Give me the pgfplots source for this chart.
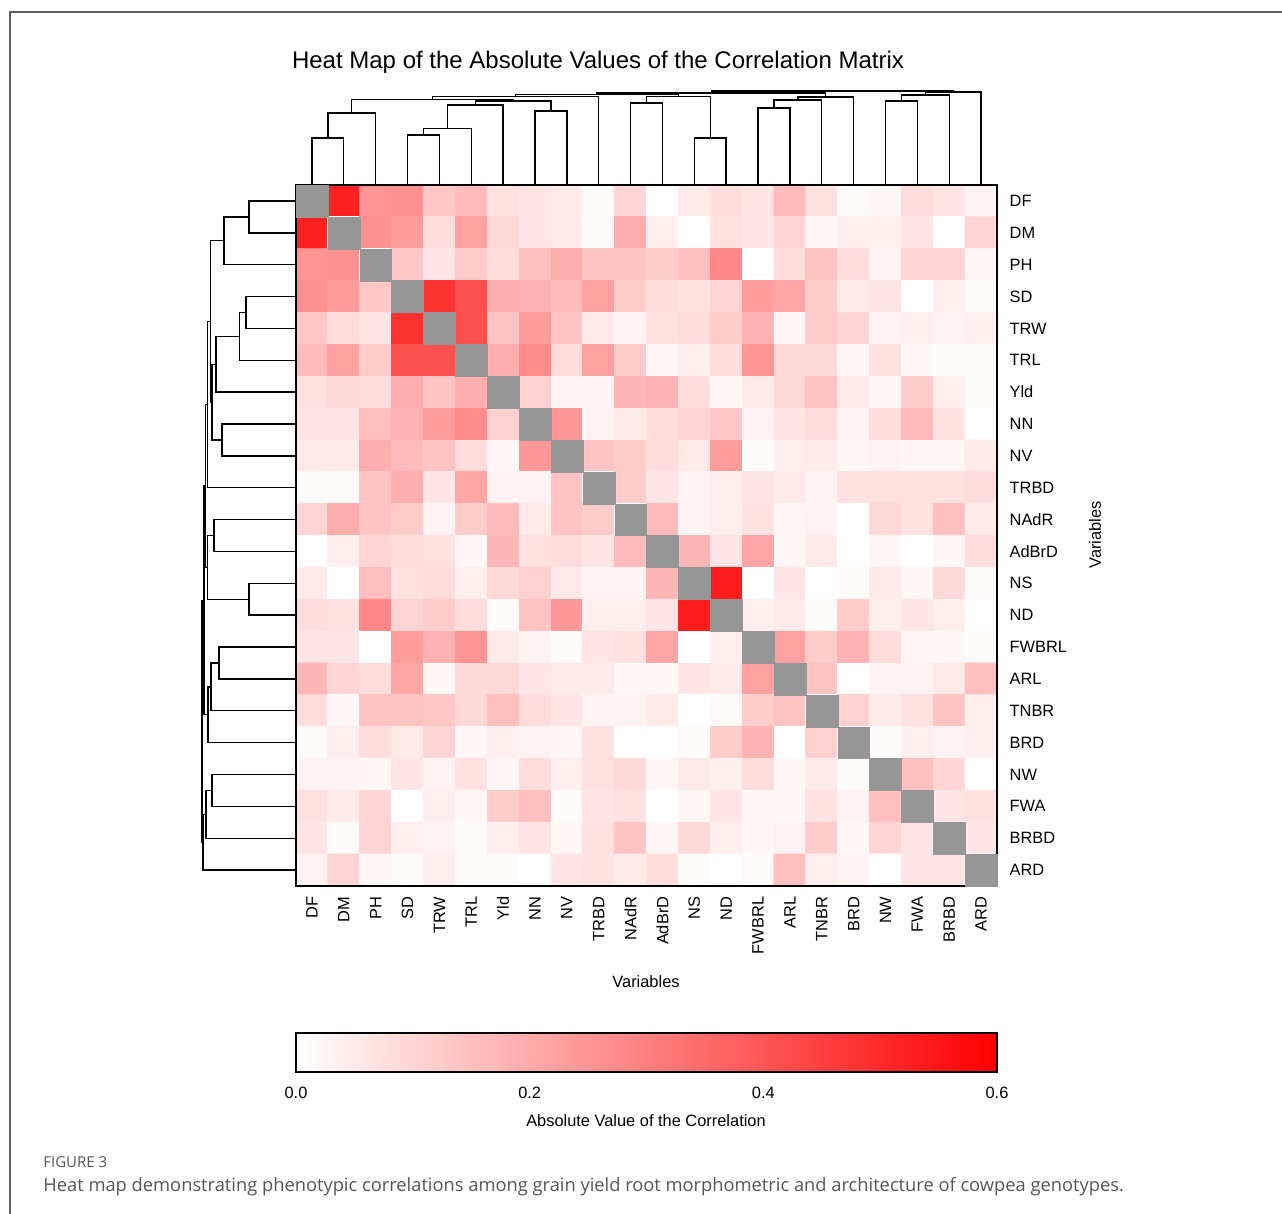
\documentclass[border=0pt]{standalone}
\usepackage{fontspec}
\setmainfont{Liberation Sans}
\newfontfamily\capfont{Open Sans}
\usepackage{pgfplots}
\pgfplotsset{compat=1.18}
\usetikzlibrary{calc}
\definecolor{diaggray}{RGB}{150,150,150}
\definecolor{framegray}{RGB}{95,95,95}
\definecolor{capgray}{RGB}{85,85,85}
\newcommand{\labfont}{\fontsize{8.2}{9.8}\selectfont}
\pgfplotsset{colormap={whitered}{rgb255=(255,255,255) rgb255=(255,0,0)}}
\def\varnames{DF,DM,PH,SD,TRW,TRL,Yld,NN,NV,TRBD,NAdR,AdBrD,NS,ND,FWBRL,ARL,TNBR,BRD,NW,FWA,BRBD,ARD}
\begin{document}
\begin{tikzpicture}
\useasboundingbox (0,0) rectangle (641pt,-607pt);
\draw[framegray, line width=0.6pt] (5pt,-607pt) -- (5pt,-6pt) -- (641pt,-6pt);
\node[font=\fontsize{12}{14}\selectfont] at (299pt,-31.3pt) {Heat Map of the Absolute Values of the Correlation Matrix};

% heat map
\begin{axis}[
  at={(148pt,-92.5pt)}, anchor=north west,
  width=350.5pt, height=350.5pt, scale only axis,
  xmin=-0.5, xmax=21.5, ymin=-0.5, ymax=21.5, y dir=reverse,
  enlargelimits=false,
  axis line style={line width=0.8pt, black},
  xtick={0,...,21}, ytick={0,...,21},
  xticklabels/.expand once=\varnames,
  yticklabels/.expand once=\varnames,
  yticklabel pos=right,
  major tick length=0pt, tick style={draw=none},
  xticklabel style={font=\labfont, yshift=-1.8pt, rotate=90, anchor=east},
  yticklabel style={font=\labfont, xshift=2.8pt, anchor=west},
  colormap name=whitered, point meta min=0, point meta max=0.6,
  colorbar horizontal,
  colorbar/width=19.5pt,
  colorbar style={
    at={($(parent axis.south west)+(0pt,-65pt)$)}, anchor=north west,
    width=350.5pt, scale only axis,
    xtick={0,0.2,0.4,0.6},
    major tick length=0pt, tick style={draw=none},
    axis line style={line width=0.8pt, black},
    xticklabel style={font=\labfont, yshift=-3.8pt,
      /pgf/number format/.cd, fixed, fixed zerofill, precision=1, assume math mode=true},
  },
  axis on top,
]
\addplot[matrix plot*, mesh/cols=22, point meta=explicit] coordinates {
(0,0)[0] (1,0)[0.52] (2,0)[0.25] (3,0)[0.26] (4,0)[0.13] (5,0)[0.16] (6,0)[0.07] (7,0)[0.06] (8,0)[0.05] (9,0)[0.01] (10,0)[0.10] (11,0)[0.00] (12,0)[0.05] (13,0)[0.08] (14,0)[0.06] (15,0)[0.16] (16,0)[0.07] (17,0)[0.01] (18,0)[0.02] (19,0)[0.08] (20,0)[0.06] (21,0)[0.03]
(0,1)[0.52] (1,1)[0] (2,1)[0.26] (3,1)[0.23] (4,1)[0.08] (5,1)[0.22] (6,1)[0.09] (7,1)[0.06] (8,1)[0.05] (9,1)[0.01] (10,1)[0.19] (11,1)[0.04] (12,1)[0.00] (13,1)[0.07] (14,1)[0.06] (15,1)[0.10] (16,1)[0.02] (17,1)[0.04] (18,1)[0.04] (19,1)[0.06] (20,1)[0.00] (21,1)[0.10]
(0,2)[0.25] (1,2)[0.26] (2,2)[0] (3,2)[0.13] (4,2)[0.06] (5,2)[0.12] (6,2)[0.08] (7,2)[0.15] (8,2)[0.19] (9,2)[0.14] (10,2)[0.14] (11,2)[0.12] (12,2)[0.15] (13,2)[0.28] (14,2)[0.00] (15,2)[0.08] (16,2)[0.14] (17,2)[0.08] (18,2)[0.03] (19,2)[0.10] (20,2)[0.10] (21,2)[0.02]
(0,3)[0.26] (1,3)[0.23] (2,3)[0.13] (3,3)[0] (4,3)[0.48] (5,3)[0.41] (6,3)[0.19] (7,3)[0.18] (8,3)[0.16] (9,3)[0.22] (10,3)[0.12] (11,3)[0.08] (12,3)[0.07] (13,3)[0.10] (14,3)[0.23] (15,3)[0.21] (16,3)[0.12] (17,3)[0.05] (18,3)[0.06] (19,3)[0.00] (20,3)[0.04] (21,3)[0.01]
(0,4)[0.13] (1,4)[0.08] (2,4)[0.06] (3,4)[0.48] (4,4)[0] (5,4)[0.41] (6,4)[0.14] (7,4)[0.23] (8,4)[0.14] (9,4)[0.05] (10,4)[0.03] (11,4)[0.07] (12,4)[0.08] (13,4)[0.12] (14,4)[0.18] (15,4)[0.02] (16,4)[0.12] (17,4)[0.10] (18,4)[0.03] (19,4)[0.04] (20,4)[0.03] (21,4)[0.04]
(0,5)[0.16] (1,5)[0.22] (2,5)[0.12] (3,5)[0.41] (4,5)[0.41] (5,5)[0] (6,5)[0.19] (7,5)[0.27] (8,5)[0.08] (9,5)[0.22] (10,5)[0.12] (11,5)[0.02] (12,5)[0.04] (13,5)[0.08] (14,5)[0.25] (15,5)[0.09] (16,5)[0.09] (17,5)[0.02] (18,5)[0.07] (19,5)[0.02] (20,5)[0.01] (21,5)[0.01]
(0,6)[0.07] (1,6)[0.09] (2,6)[0.08] (3,6)[0.19] (4,6)[0.14] (5,6)[0.19] (6,6)[0] (7,6)[0.11] (8,6)[0.03] (9,6)[0.03] (10,6)[0.17] (11,6)[0.18] (12,6)[0.08] (13,6)[0.02] (14,6)[0.05] (15,6)[0.09] (16,6)[0.14] (17,6)[0.05] (18,6)[0.02] (19,6)[0.12] (20,6)[0.04] (21,6)[0.01]
(0,7)[0.06] (1,7)[0.06] (2,7)[0.15] (3,7)[0.18] (4,7)[0.23] (5,7)[0.27] (6,7)[0.11] (7,7)[0] (8,7)[0.24] (9,7)[0.03] (10,7)[0.05] (11,7)[0.08] (12,7)[0.10] (13,7)[0.13] (14,7)[0.03] (15,7)[0.06] (16,7)[0.08] (17,7)[0.03] (18,7)[0.08] (19,7)[0.16] (20,7)[0.07] (21,7)[0.00]
(0,8)[0.05] (1,8)[0.05] (2,8)[0.19] (3,8)[0.16] (4,8)[0.14] (5,8)[0.08] (6,8)[0.02] (7,8)[0.24] (8,8)[0] (9,8)[0.14] (10,8)[0.12] (11,8)[0.08] (12,8)[0.05] (13,8)[0.23] (14,8)[0.01] (15,8)[0.04] (16,8)[0.05] (17,8)[0.02] (18,8)[0.03] (19,8)[0.02] (20,8)[0.02] (21,8)[0.05]
(0,9)[0.01] (1,9)[0.01] (2,9)[0.14] (3,9)[0.19] (4,9)[0.06] (5,9)[0.21] (6,9)[0.03] (7,9)[0.03] (8,9)[0.14] (9,9)[0] (10,9)[0.12] (11,9)[0.06] (12,9)[0.03] (13,9)[0.04] (14,9)[0.06] (15,9)[0.05] (16,9)[0.03] (17,9)[0.07] (18,9)[0.07] (19,9)[0.07] (20,9)[0.07] (21,9)[0.08]
(0,10)[0.10] (1,10)[0.19] (2,10)[0.14] (3,10)[0.12] (4,10)[0.03] (5,10)[0.12] (6,10)[0.16] (7,10)[0.05] (8,10)[0.14] (9,10)[0.12] (10,10)[0] (11,10)[0.16] (12,10)[0.03] (13,10)[0.04] (14,10)[0.07] (15,10)[0.02] (16,10)[0.03] (17,10)[0.00] (18,10)[0.09] (19,10)[0.07] (20,10)[0.15] (21,10)[0.05]
(0,11)[0.00] (1,11)[0.04] (2,11)[0.10] (3,11)[0.08] (4,11)[0.07] (5,11)[0.02] (6,11)[0.17] (7,11)[0.07] (8,11)[0.08] (9,11)[0.06] (10,11)[0.16] (11,11)[0] (12,11)[0.17] (13,11)[0.06] (14,11)[0.21] (15,11)[0.02] (16,11)[0.05] (17,11)[0.00] (18,11)[0.02] (19,11)[0.00] (20,11)[0.02] (21,11)[0.08]
(0,12)[0.05] (1,12)[0.00] (2,12)[0.15] (3,12)[0.07] (4,12)[0.08] (5,12)[0.04] (6,12)[0.09] (7,12)[0.11] (8,12)[0.05] (9,12)[0.03] (10,12)[0.03] (11,12)[0.17] (12,12)[0] (13,12)[0.53] (14,12)[0.00] (15,12)[0.06] (16,12)[0.00] (17,12)[0.01] (18,12)[0.05] (19,12)[0.02] (20,12)[0.09] (21,12)[0.01]
(0,13)[0.08] (1,13)[0.07] (2,13)[0.28] (3,13)[0.10] (4,13)[0.12] (5,13)[0.08] (6,13)[0.01] (7,13)[0.14] (8,13)[0.24] (9,13)[0.04] (10,13)[0.04] (11,13)[0.06] (12,13)[0.53] (13,13)[0] (14,13)[0.04] (15,13)[0.05] (16,13)[0.01] (17,13)[0.12] (18,13)[0.04] (19,13)[0.06] (20,13)[0.04] (21,13)[0.00]
(0,14)[0.06] (1,14)[0.06] (2,14)[0.00] (3,14)[0.23] (4,14)[0.18] (5,14)[0.25] (6,14)[0.05] (7,14)[0.03] (8,14)[0.01] (9,14)[0.06] (10,14)[0.07] (11,14)[0.21] (12,14)[0.00] (13,14)[0.04] (14,14)[0] (15,14)[0.22] (16,14)[0.12] (17,14)[0.18] (18,14)[0.08] (19,14)[0.02] (20,14)[0.02] (21,14)[0.01]
(0,15)[0.17] (1,15)[0.10] (2,15)[0.08] (3,15)[0.21] (4,15)[0.02] (5,15)[0.09] (6,15)[0.09] (7,15)[0.06] (8,15)[0.05] (9,15)[0.05] (10,15)[0.02] (11,15)[0.02] (12,15)[0.06] (13,15)[0.05] (14,15)[0.22] (15,15)[0] (16,15)[0.14] (17,15)[0.00] (18,15)[0.03] (19,15)[0.03] (20,15)[0.05] (21,15)[0.15]
(0,16)[0.08] (1,16)[0.02] (2,16)[0.14] (3,16)[0.14] (4,16)[0.13] (5,16)[0.09] (6,16)[0.15] (7,16)[0.08] (8,16)[0.06] (9,16)[0.03] (10,16)[0.03] (11,16)[0.05] (12,16)[0.00] (13,16)[0.01] (14,16)[0.12] (15,16)[0.14] (16,16)[0] (17,16)[0.11] (18,16)[0.05] (19,16)[0.07] (20,16)[0.14] (21,16)[0.04]
(0,17)[0.01] (1,17)[0.04] (2,17)[0.08] (3,17)[0.05] (4,17)[0.10] (5,17)[0.02] (6,17)[0.04] (7,17)[0.03] (8,17)[0.02] (9,17)[0.07] (10,17)[0.00] (11,17)[0.00] (12,17)[0.01] (13,17)[0.12] (14,17)[0.18] (15,17)[0.00] (16,17)[0.11] (17,17)[0] (18,17)[0.01] (19,17)[0.04] (20,17)[0.03] (21,17)[0.04]
(0,18)[0.03] (1,18)[0.03] (2,18)[0.02] (3,18)[0.06] (4,18)[0.03] (5,18)[0.07] (6,18)[0.02] (7,18)[0.08] (8,18)[0.04] (9,18)[0.07] (10,18)[0.09] (11,18)[0.02] (12,18)[0.05] (13,18)[0.04] (14,18)[0.08] (15,18)[0.02] (16,18)[0.05] (17,18)[0.01] (18,18)[0] (19,18)[0.15] (20,18)[0.10] (21,18)[0.00]
(0,19)[0.07] (1,19)[0.05] (2,19)[0.10] (3,19)[0.00] (4,19)[0.04] (5,19)[0.02] (6,19)[0.12] (7,19)[0.15] (8,19)[0.01] (9,19)[0.06] (10,19)[0.07] (11,19)[0.00] (12,19)[0.02] (13,19)[0.06] (14,19)[0.02] (15,19)[0.02] (16,19)[0.07] (17,19)[0.03] (18,19)[0.15] (19,19)[0] (20,19)[0.06] (21,19)[0.07]
(0,20)[0.06] (1,20)[0.01] (2,20)[0.10] (3,20)[0.04] (4,20)[0.03] (5,20)[0.01] (6,20)[0.04] (7,20)[0.06] (8,20)[0.02] (9,20)[0.07] (10,20)[0.14] (11,20)[0.02] (12,20)[0.09] (13,20)[0.04] (14,20)[0.02] (15,20)[0.03] (16,20)[0.12] (17,20)[0.02] (18,20)[0.10] (19,20)[0.06] (20,20)[0] (21,20)[0.06]
(0,21)[0.03] (1,21)[0.10] (2,21)[0.02] (3,21)[0.01] (4,21)[0.04] (5,21)[0.01] (6,21)[0.01] (7,21)[0.00] (8,21)[0.06] (9,21)[0.07] (10,21)[0.05] (11,21)[0.08] (12,21)[0.01] (13,21)[0.00] (14,21)[0.01] (15,21)[0.15] (16,21)[0.04] (17,21)[0.03] (18,21)[0.00] (19,21)[0.06] (20,21)[0.06] (21,21)[0]
};
\addplot[only marks, color=diaggray, mark=square*, mark size=7.97pt, mark options={fill=diaggray, draw=diaggray, line width=0.1pt}]
  coordinates {(0,0) (1,1) (2,2) (3,3) (4,4) (5,5) (6,6) (7,7) (8,8) (9,9) (10,10) (11,11) (12,12) (13,13) (14,14) (15,15) (16,16) (17,17) (18,18) (19,19) (20,20) (21,21)};
\end{axis}

% top dendrogram (x = leaf position, y = link height)
\begin{axis}[
  at={(148pt,-92.5pt)}, anchor=south west,
  width=350.5pt, height=48.5pt, scale only axis,
  xmin=-0.5, xmax=21.5, ymin=0, ymax=97,
  axis lines=none, clip=false, unbounded coords=jump,
]
\addplot[black, line width=0.7pt] coordinates {
(0,0) (0,47) (1,47) (1,0) (nan,nan)
(0.5,47) (0.5,72) (2,72) (2,0) (nan,nan)
(3,0) (3,50) (4,50) (4,0) (nan,nan)
(3.5,50) (3.5,56.7) (5,56.7) (5,0) (nan,nan)
(4.25,56.7) (4.25,80) (6,80) (6,0) (nan,nan)
(7,0) (7,74) (8,74) (8,0) (nan,nan)
(5.125,80) (5.125,84) (7.5,84) (7.5,74) (nan,nan)
(1.25,72) (1.25,85.7) (6.3125,85.7) (6.3125,84) (nan,nan)
(3.78,85.7) (3.78,88.3) (9,88.3) (9,0) (nan,nan)
(10,0) (10,82) (11,82) (11,0) (nan,nan)
(12,0) (12,47) (13,47) (13,0) (nan,nan)
(10.5,82) (10.5,88.3) (12.5,88.3) (12.5,47) (nan,nan)
(6.39,88.3) (6.39,90.7) (11.5,90.7) (11.5,88.3) (nan,nan)
(14,0) (14,77) (15,77) (15,0) (nan,nan)
(14.5,77) (14.5,85) (16,85) (16,0) (nan,nan)
(15.25,85) (15.25,88) (17,88) (17,0) (nan,nan)
(8.95,90.7) (8.95,92) (16.125,92) (16.125,88) (nan,nan)
(18,0) (18,84) (19,84) (19,0) (nan,nan)
(18.5,84) (18.5,90) (20,90) (20,0) (nan,nan)
(19.25,90) (19.25,93) (21,93) (21,0) (nan,nan)
(12.54,92) (12.54,94) (20.125,94) (20.125,93)
};
\end{axis}

% left dendrogram (x = link height, y = leaf position)
\begin{axis}[
  at={(148pt,-92.5pt)}, anchor=north east,
  width=48.5pt, height=350.5pt, scale only axis,
  xmin=0, xmax=97, x dir=reverse,
  ymin=-0.5, ymax=21.5, y dir=reverse,
  axis lines=none, clip=false, unbounded coords=jump,
]
\addplot[black, line width=0.7pt] coordinates {
(0,0) (47,0) (47,1) (0,1) (nan,nan)
(47,0.5) (72,0.5) (72,2) (0,2) (nan,nan)
(0,3) (50,3) (50,4) (0,4) (nan,nan)
(50,3.5) (56.7,3.5) (56.7,5) (0,5) (nan,nan)
(56.7,4.25) (80,4.25) (80,6) (0,6) (nan,nan)
(0,7) (74,7) (74,8) (0,8) (nan,nan)
(80,5.125) (84,5.125) (84,7.5) (74,7.5) (nan,nan)
(72,1.25) (85.7,1.25) (85.7,6.3125) (84,6.3125) (nan,nan)
(85.7,3.78) (88.3,3.78) (88.3,9) (0,9) (nan,nan)
(0,10) (82,10) (82,11) (0,11) (nan,nan)
(0,12) (47,12) (47,13) (0,13) (nan,nan)
(82,10.5) (88.3,10.5) (88.3,12.5) (47,12.5) (nan,nan)
(88.3,6.39) (90.7,6.39) (90.7,11.5) (88.3,11.5) (nan,nan)
(0,14) (77,14) (77,15) (0,15) (nan,nan)
(77,14.5) (85,14.5) (85,16) (0,16) (nan,nan)
(85,15.25) (88,15.25) (88,17) (0,17) (nan,nan)
(90.7,8.95) (92,8.95) (92,16.125) (88,16.125) (nan,nan)
(0,18) (84,18) (84,19) (0,19) (nan,nan)
(84,18.5) (90,18.5) (90,20) (0,20) (nan,nan)
(90,19.25) (93,19.25) (93,21) (0,21) (nan,nan)
(92,12.54) (94,12.54) (94,20.125) (93,20.125)
};
\end{axis}

\node[font=\labfont] at (323pt,-491pt) {Variables};
\node[font=\labfont, rotate=90] at (547.5pt,-267.5pt) {Variables};
\node[font=\labfont] at (323pt,-560.5pt) {Absolute Value of the Correlation};

\node[anchor=base west, inner sep=0pt, text=capgray, font=\capfont\fontsize{7.5}{9}\selectfont] at (21.5pt,-583.5pt) {FIGURE 3};
\node[anchor=base west, inner sep=0pt, text=capgray, font=\capfont\fontsize{9.15}{11}\selectfont] at (21.5pt,-595.5pt) {Heat map demonstrating phenotypic correlations among grain yield root morphometric and architecture of cowpea genotypes.};
\end{tikzpicture}
\end{document}
